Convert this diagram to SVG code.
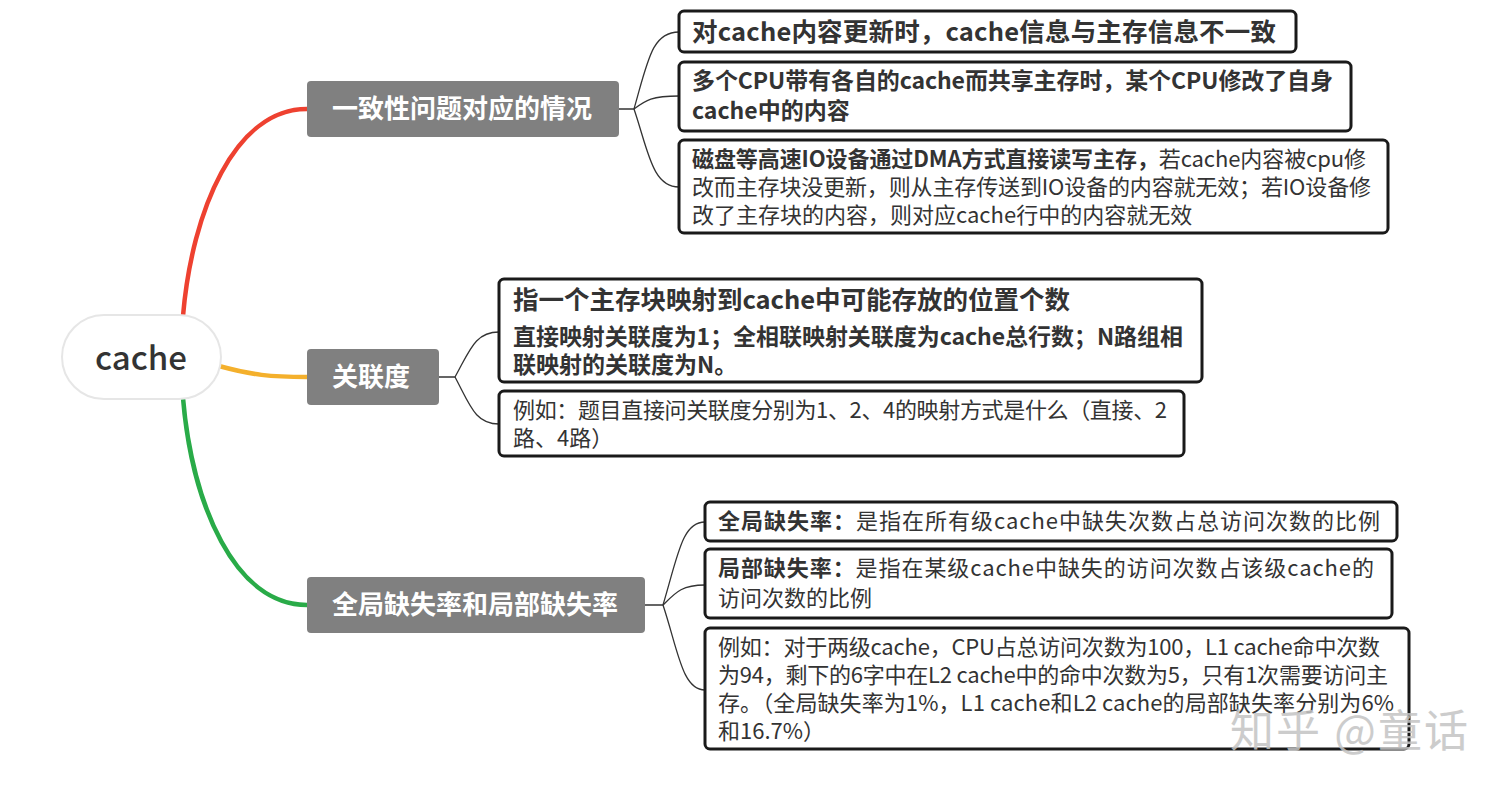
<svg xmlns="http://www.w3.org/2000/svg" width="1507" height="791" viewBox="0 0 1507 791">
<style>
text{font-family:"Noto Sans CJK SC","Noto Sans",sans-serif;fill:#333}
.root{fill:#fff;stroke:#e6e6e6;stroke-width:2}
.branch{fill:#808080}
.bt{fill:#fff;font-weight:bold;font-size:26px}
.leaf{fill:#fff;stroke:#1a1a1a;stroke-width:3}
.t1{font-size:25.5px;font-weight:bold}
.tb{font-size:23px;font-weight:bold}
.tn{font-size:22px}
.b{font-weight:bold}
.thin{fill:none;stroke:#333;stroke-width:1.3}
.wm{font-size:44px;fill:#c4c4c4;opacity:0.85}
</style>
<g id="connectors">
<path d="M183,316 C192,210 235,109 307,109" fill="none" stroke="#ee4130" stroke-width="4.5"/>
<path d="M219,366 C252,375 270,377 307,377" fill="none" stroke="#f4b02c" stroke-width="4.5"/>
<path d="M183,398 C192,505 235,605 307,605" fill="none" stroke="#29ab48" stroke-width="4.5"/>
<path class="thin" d="M619,109 H634 C648,60 652,32 679,32"/>
<path class="thin" d="M634,109 C646,100 652,96 679,96"/>
<path class="thin" d="M634,109 C648,150 652,187 679,187"/>
<path class="thin" d="M439,377 H455 C470,350 475,332 499,332"/>
<path class="thin" d="M455,377 C470,405 475,424 499,424"/>
<path class="thin" d="M645,605 H663 C678,555 682,522 705,522"/>
<path class="thin" d="M663,605 C676,592 682,585 705,585"/>
<path class="thin" d="M663,605 C678,650 682,690 705,690"/>
</g>
<g id="root">
<rect class="root" x="62" y="315" width="159" height="84" rx="42"/>
<text x="141" y="370" text-anchor="middle" style="font-size:33px;font-weight:500;fill:#333">cache</text>
</g>
<g id="branch1">
<rect class="branch" x="307" y="81" width="312" height="56" rx="4"/>
<text class="bt" x="332" y="118">一致性问题对应的情况</text>
</g>
<g id="branch2">
<rect class="branch" x="307" y="349" width="132" height="56" rx="4"/>
<text class="bt" x="332" y="386">关联度</text>
</g>
<g id="branch3">
<rect class="branch" x="307" y="577" width="338" height="56" rx="4"/>
<text class="bt" x="332" y="614">全局缺失率和局部缺失率</text>
</g>
<g id="leaf1">
<rect class="leaf" x="679" y="11" width="617" height="41" rx="5"/>
<text class="t1" x="692" y="41" textLength="584" lengthAdjust="spacing">对cache内容更新时，cache信息与主存信息不一致</text>
</g>
<g id="leaf2">
<rect class="leaf" x="679" y="62" width="672" height="69" rx="5"/>
<text class="tb" x="692" y="89" textLength="641" lengthAdjust="spacing">多个CPU带有各自的cache而共享主存时，某个CPU修改了自身</text>
<text class="tb" x="692" y="119">cache中的内容</text>
</g>
<g id="leaf3">
<rect class="leaf" x="679" y="140" width="709" height="93" rx="5"/>
<text class="tn" x="692" y="167" textLength="674" lengthAdjust="spacing"><tspan class="b">磁盘等高速IO设备通过DMA方式直接读写主存，</tspan>若cache内容被cpu修</text>
<text class="tn" x="692" y="195" textLength="679" lengthAdjust="spacing">改而主存块没更新，则从主存传送到IO设备的内容就无效；若IO设备修</text>
<text class="tn" x="692" y="223">改了主存块的内容，则对应cache行中的内容就无效</text>
</g>
<g id="leaf4">
<rect class="leaf" x="499" y="279" width="703" height="103" rx="5"/>
<text class="t1" x="513" y="309" textLength="557" lengthAdjust="spacing">指一个主存块映射到cache中可能存放的位置个数</text>
<text class="tb" x="513" y="345" textLength="670" lengthAdjust="spacing">直接映射关联度为1；全相联映射关联度为cache总行数；N路组相</text>
<text class="tb" x="513" y="373">联映射的关联度为N。</text>
</g>
<g id="leaf5">
<rect class="leaf" x="499" y="391" width="685" height="65" rx="5"/>
<text class="tn" x="513" y="418" textLength="654" lengthAdjust="spacing">例如：题目直接问关联度分别为1、2、4的映射方式是什么（直接、2</text>
<text class="tn" x="513" y="446">路、4路）</text>
</g>
<g id="leaf6">
<rect class="leaf" x="705" y="502" width="692" height="39" rx="5"/>
<text class="tn" x="718" y="529" textLength="662" lengthAdjust="spacing"><tspan class="b">全局缺失率：</tspan>是指在所有级cache中缺失次数占总访问次数的比例</text>
</g>
<g id="leaf7">
<rect class="leaf" x="705" y="549" width="687" height="69" rx="5"/>
<text class="tn" x="718" y="576" textLength="656" lengthAdjust="spacing"><tspan class="b">局部缺失率：</tspan>是指在某级cache中缺失的访问次数占该级cache的</text>
<text class="tn" x="718" y="606">访问次数的比例</text>
</g>
<g id="leaf8">
<rect class="leaf" x="705" y="628" width="704" height="121" rx="5"/>
<text class="tn" x="718" y="655" textLength="662" lengthAdjust="spacing">例如：对于两级cache，CPU占总访问次数为100，L1 cache命中次数</text>
<text class="tn" x="718" y="683" textLength="670" lengthAdjust="spacing">为94，剩下的6字中在L2 cache中的命中次数为5，只有1次需要访问主</text>
<text class="tn" x="718" y="711" textLength="676" lengthAdjust="spacing">存。（全局缺失率为1%，L1 cache和L2 cache的局部缺失率分别为6%</text>
<text class="tn" x="718" y="739">和16.7%）</text>
</g>
<text class="wm" x="1230" y="747" textLength="238" lengthAdjust="spacing">知乎 @童话</text>
</svg>
